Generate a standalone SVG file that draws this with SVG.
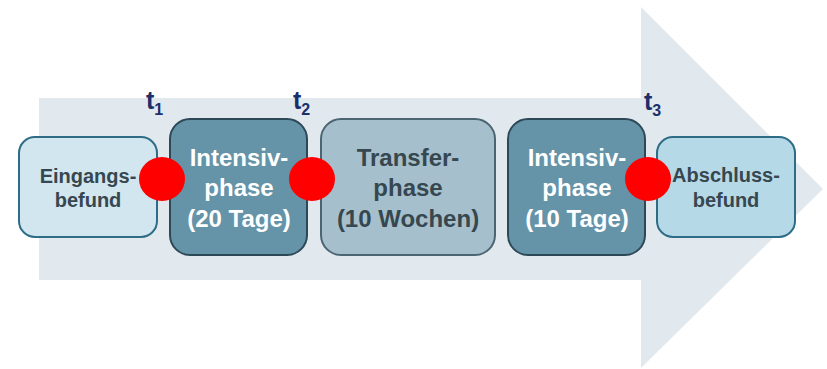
<svg xmlns="http://www.w3.org/2000/svg" width="827" height="369" viewBox="0 0 827 369">
<style>
.lbl{font-family:"Liberation Sans",Arial,sans-serif;font-weight:bold;text-anchor:middle}
.dark{fill:#36474f}
.light{fill:#ffffff}
.t{font-family:"Liberation Sans",Arial,sans-serif;font-weight:bold;fill:#1b2f6a;font-size:25px}
.sub{font-size:16px}
.dot{fill:#ff0000}
</style>
<rect width="827" height="369" fill="#ffffff"/>
<g id="arrow">
<polygon points="39,98 641,98 641,7 823,189 641,368 641,280 39,280" fill="#e1e9ef"/>
</g>
<g id="eingang">
<rect x="19" y="137" width="138" height="100" rx="16" fill="#d1e6ef" stroke="#2f6c86" stroke-width="2"/>
<text class="lbl dark" font-size="20" x="88" y="183">Eingangs-</text>
<text class="lbl dark" font-size="20" x="88" y="207">befund</text>
</g>
<g id="intensiv1">
<rect x="170" y="119" width="137" height="136" rx="20" fill="#6593a8" stroke="#2d4957" stroke-width="2"/>
<text class="lbl light" font-size="24" x="239" y="166">Intensiv-</text>
<text class="lbl light" font-size="24" x="239" y="196">phase</text>
<text class="lbl light" font-size="24" x="239" y="227">(20 Tage)</text>
</g>
<g id="transfer">
<rect x="321" y="119" width="174" height="136" rx="20" fill="#a5bfcc" stroke="#4b6572" stroke-width="2"/>
<text class="lbl dark" font-size="24" x="408" y="166">Transfer-</text>
<text class="lbl dark" font-size="24" x="408" y="196">phase</text>
<text class="lbl dark" font-size="24" x="408" y="227">(10 Wochen)</text>
</g>
<g id="intensiv2">
<rect x="508" y="119" width="137" height="136" rx="20" fill="#6593a8" stroke="#2d4957" stroke-width="2"/>
<text class="lbl light" font-size="24" x="577" y="166">Intensiv-</text>
<text class="lbl light" font-size="24" x="577" y="196">phase</text>
<text class="lbl light" font-size="24" x="577" y="227">(10 Tage)</text>
</g>
<g id="abschluss">
<rect x="657" y="137" width="138" height="100" rx="16" fill="#b6d9e8" stroke="#2f6c86" stroke-width="2"/>
<text class="lbl dark" font-size="20" x="726" y="182">Abschluss-</text>
<text class="lbl dark" font-size="20" x="726" y="207">befund</text>
</g>
<g id="markers">
<ellipse class="dot" cx="162" cy="179" rx="23" ry="22"/>
<ellipse class="dot" cx="312" cy="179" rx="23" ry="22"/>
<ellipse class="dot" cx="648" cy="179" rx="23" ry="22"/>
</g>
<g id="labels">
<text class="t" x="146" y="109">t<tspan class="sub" dy="6">1</tspan></text>
<text class="t" x="293" y="109">t<tspan class="sub" dy="6">2</tspan></text>
<text class="t" x="644" y="110">t<tspan class="sub" dy="6">3</tspan></text>
</g>
</svg>
